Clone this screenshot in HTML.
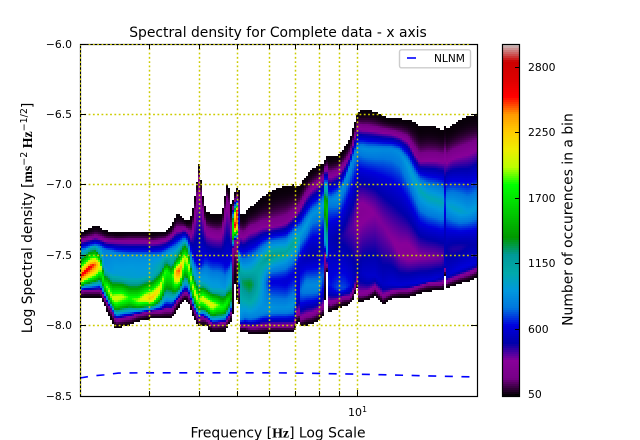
<!DOCTYPE html>
<html><head><meta charset="utf-8"><title>Spectral density</title>
<style>
html,body{margin:0;padding:0;background:#fff}
svg{display:block}
text{font-family:"DejaVu Sans","Liberation Sans",sans-serif;fill:#000}
.m{font-family:"Liberation Serif",serif;font-weight:bold}
</style></head>
<body>
<svg id="chart" xmlns="http://www.w3.org/2000/svg" width="640" height="440" viewBox="0 0 640 440">
<g id="cells" shape-rendering="crispEdges"></g>
<g id="nlnm"></g>
<g id="grid"></g>
<rect x="80.5" y="44.5" width="397" height="352" fill="none" stroke="#000" stroke-width="1.2"></rect>
<g id="gridEdge"></g>
<g id="ticks"></g>
<text x="278" y="37" text-anchor="middle" font-size="13.9">Spectral density for Complete data - x axis</text>
<text x="32" y="218" text-anchor="middle" font-size="13.8" transform="rotate(-90 32 218)">Log Spectral density [<tspan class="m">ms</tspan><tspan font-size="9.5" dy="-5">−2</tspan><tspan class="m" dy="5"> Hz</tspan><tspan font-size="9.5" dy="-5">−1/2</tspan><tspan dy="5">]</tspan></text>
<text x="278" y="437.5" text-anchor="middle" font-size="13.9">Frequency [<tspan class="m">Hz</tspan>] Log Scale</text>
<text x="348" y="416" font-size="11">10<tspan font-size="8" dy="-4">1</tspan></text>
<g>
<rect x="399.5" y="49.8" width="71" height="18" rx="2" fill="#fff" stroke="#ccc" stroke-width="1.4"></rect>
<line x1="407" y1="58" x2="416" y2="58" stroke="#0000ff" stroke-width="1.6"></line>
<text x="434" y="62" font-size="10.6">NLNM</text>
</g>
<g id="colorbar" shape-rendering="crispEdges"></g>
<rect x="502.5" y="44.5" width="17" height="352" fill="none" stroke="#000" stroke-width="1.2"></rect>
<g id="cbticks"></g>
<text x="572.5" y="219.5" text-anchor="middle" font-size="13.9" transform="rotate(-90 572.5 219.5)">Number of occurences in a bin</text>
</svg>
<script>
var freqHz=[2.00,2.05,2.12,2.19,2.25,2.30,2.35,2.41,2.46,2.55,2.67,2.80,2.93,3.04,3.18,3.29,3.41,3.49,3.57,3.66,3.74,3.83,3.92,3.99,4.06,4.15,4.30,4.45,4.56,4.64,4.72,4.80,4.86,4.92,4.97,5.03,5.09,5.18,5.36,5.55,5.75,6.02,6.31,6.61,6.92,7.08,7.21,7.42,7.68,7.95,8.19,8.28,8.36,8.48,8.58,8.93,9.25,9.58,9.80,9.97,10.09,10.27,10.63,11.07,11.60,12.21,12.80,13.41,13.96,14.37,15.05,15.76,16.41,16.61,16.80,17.30,18.12,18.98,20.00];
var topEdge=[-7.33,-7.33,-7.31,-7.29,-7.30,-7.32,-7.33,-7.33,-7.34,-7.34,-7.33,-7.33,-7.33,-7.34,-7.33,-7.33,-7.29,-7.21,-7.21,-7.24,-7.26,-7.21,-7.04,-6.85,-7.04,-7.19,-7.21,-7.21,-7.20,-7.07,-6.96,-7.14,-7.11,-7.05,-7.02,-7.04,-7.21,-7.21,-7.16,-7.13,-7.09,-7.05,-7.02,-7.01,-7.00,-7.02,-6.99,-6.94,-6.89,-6.86,-6.85,-6.82,-6.79,-6.80,-6.80,-6.79,-6.74,-6.67,-6.58,-6.50,-6.48,-6.47,-6.47,-6.48,-6.51,-6.53,-6.53,-6.54,-6.55,-6.59,-6.58,-6.59,-6.61,-6.58,-6.60,-6.58,-6.54,-6.51,-6.50];
var purpleUpper=[-7.40,-7.39,-7.38,-7.37,-7.38,-7.39,-7.40,-7.40,-7.40,-7.40,-7.40,-7.40,-7.40,-7.41,-7.40,-7.39,-7.36,-7.32,-7.32,-7.31,-7.33,-7.36,-7.14,-6.96,-7.14,-7.32,-7.34,-7.35,-7.34,-7.19,-7.07,-7.31,-7.16,-7.11,-7.09,-7.14,-7.36,-7.36,-7.32,-7.31,-7.29,-7.29,-7.28,-7.26,-7.21,-7.18,-7.14,-7.07,-7.02,-6.99,-6.95,-6.89,-6.88,-6.93,-6.93,-6.91,-6.86,-6.79,-6.68,-6.60,-6.59,-6.60,-6.60,-6.61,-6.62,-6.63,-6.65,-6.68,-6.77,-6.82,-6.81,-6.81,-6.82,-6.79,-6.82,-6.79,-6.77,-6.75,-6.72];
var ridgeUpper=[-7.46,-7.46,-7.44,-7.43,-7.44,-7.46,-7.47,-7.48,-7.49,-7.50,-7.51,-7.51,-7.51,-7.51,-7.51,-7.49,-7.46,-7.45,-7.42,-7.39,-7.41,-7.50,-7.55,-7.58,-7.56,-7.55,-7.59,-7.59,-7.58,-7.59,-7.58,-7.55,-7.21,-7.16,-7.14,-7.25,-7.55,-7.59,-7.60,-7.58,-7.55,-7.51,-7.49,-7.48,-7.41,-7.39,-7.34,-7.29,-7.21,-7.18,-7.14,-6.97,-6.95,-7.11,-7.11,-7.09,-7.00,-6.87,-6.79,-6.75,-6.74,-6.74,-6.75,-6.75,-6.75,-6.75,-6.77,-6.86,-6.97,-7.04,-7.09,-7.11,-7.13,-7.11,-7.14,-7.16,-7.19,-7.20,-7.16];
var ridgeUpperCount=[800,800,800,800,800,800,820,850,850,850,870,870,870,870,870,880,850,850,850,850,800,650,600,620,650,700,720,720,680,650,640,650,1000,1100,1000,600,850,950,1000,1050,1150,1250,1200,1150,1150,1100,950,950,900,900,950,700,700,850,850,900,880,880,860,850,850,880,880,880,860,860,880,950,1000,1050,1050,1050,1050,700,950,1000,1000,950,950];
var midLevel=[-7.50,-7.48,-7.45,-7.44,-7.49,-7.57,-7.60,-7.62,-7.63,-7.64,-7.65,-7.65,-7.64,-7.64,-7.60,-7.56,-7.55,-7.52,-7.51,-7.44,-7.46,-7.59,-7.66,-7.68,-7.68,-7.69,-7.73,-7.73,-7.72,-7.73,-7.70,-7.68,-7.26,-7.21,-7.18,-7.39,-7.68,-7.70,-7.71,-7.71,-7.70,-7.69,-7.69,-7.69,-7.64,-7.59,-7.55,-7.52,-7.50,-7.50,-7.43,-7.14,-7.14,-7.39,-7.39,-7.39,-7.36,-7.32,-7.29,-7.25,-7.21,-7.19,-7.19,-7.21,-7.29,-7.39,-7.48,-7.50,-7.51,-7.52,-7.52,-7.52,-7.52,-7.43,-7.46,-7.46,-7.45,-7.43,-7.43];
var midCount=[1050,1050,1100,1100,1100,880,900,920,950,950,960,950,950,1000,1100,1300,1100,1200,1400,1400,1300,1000,950,950,950,950,950,950,900,900,950,950,1800,2200,2600,200,1250,1300,1350,1200,950,620,620,600,620,560,560,520,500,520,520,1500,1750,520,520,480,450,400,380,330,300,300,320,340,350,340,320,300,320,340,350,360,380,500,480,450,450,480,500];
var ridgeLower=[-7.65,-7.62,-7.58,-7.56,-7.56,-7.70,-7.73,-7.80,-7.80,-7.79,-7.80,-7.82,-7.80,-7.80,-7.73,-7.60,-7.65,-7.61,-7.60,-7.51,-7.53,-7.70,-7.78,-7.82,-7.80,-7.82,-7.85,-7.85,-7.87,-7.85,-7.82,-7.80,-7.33,-7.28,-7.26,-7.57,-7.95,-7.93,-7.93,-7.92,-7.89,-7.87,-7.87,-7.87,-7.85,-7.75,-7.75,-7.71,-7.71,-7.71,-7.64,-7.36,-7.39,-7.71,-7.71,-7.73,-7.73,-7.71,-7.68,-7.60,-7.64,-7.62,-7.64,-7.64,-7.70,-7.70,-7.71,-7.70,-7.70,-7.69,-7.68,-7.66,-7.64,-7.57,-7.64,-7.62,-7.59,-7.57,-7.55];
var ridgeLowerCount=[2550,2600,2600,2450,2050,1700,1950,2000,2050,2000,1800,1950,2150,2300,2100,1800,1700,2400,2500,1950,2000,1950,2100,1900,2050,2050,2100,1900,1800,1800,1750,1500,1700,2700,2500,1400,850,820,850,850,880,900,880,880,900,550,780,850,850,850,750,1000,1050,650,650,720,720,650,550,500,520,560,580,580,560,600,600,600,620,620,600,600,560,550,560,600,620,620,600];
var purpleLower=[-7.76,-7.75,-7.75,-7.75,-7.75,-7.80,-7.85,-7.90,-7.96,-7.95,-7.94,-7.92,-7.91,-7.90,-7.90,-7.89,-7.89,-7.84,-7.80,-7.77,-7.77,-7.85,-7.92,-7.95,-7.94,-7.95,-7.99,-7.99,-7.98,-7.98,-7.95,-7.92,-7.43,-7.39,-7.38,-7.75,-8.01,-8.00,-8.01,-8.01,-8.00,-8.00,-8.00,-8.00,-8.00,-7.89,-7.95,-7.93,-7.92,-7.90,-7.87,-7.50,-7.52,-7.84,-7.84,-7.82,-7.80,-7.80,-7.75,-7.68,-7.78,-7.78,-7.77,-7.73,-7.79,-7.76,-7.75,-7.75,-7.73,-7.72,-7.70,-7.70,-7.70,-7.60,-7.69,-7.67,-7.65,-7.63,-7.60];
var bottomEdge=[-7.81,-7.80,-7.80,-7.80,-7.80,-7.85,-7.91,-7.97,-8.02,-8.01,-8.00,-7.97,-7.96,-7.95,-7.95,-7.95,-7.95,-7.90,-7.86,-7.82,-7.83,-7.91,-7.98,-8.01,-8.00,-8.00,-8.05,-8.05,-8.04,-8.04,-8.00,-7.97,-7.92,-7.68,-7.82,-7.85,-8.05,-8.04,-8.06,-8.06,-8.06,-8.05,-8.05,-8.05,-8.05,-7.96,-8.01,-8.00,-7.99,-7.97,-7.93,-7.82,-7.57,-7.91,-7.90,-7.88,-7.86,-7.85,-7.80,-7.73,-7.83,-7.83,-7.82,-7.79,-7.85,-7.81,-7.80,-7.80,-7.79,-7.77,-7.76,-7.75,-7.75,-7.65,-7.73,-7.72,-7.70,-7.69,-7.66];
var nlnmFreq=[2,2.1,2.2,2.3,2.5,3,4,5,6,7,8,10,12,15,20];
var nlnmValue=[-8.372,-8.362,-8.355,-8.35,-8.337,-8.335,-8.335,-8.335,-8.335,-8.337,-8.34,-8.345,-8.35,-8.357,-8.365];
var yTickValues=[-6.0,-6.5,-7.0,-7.5,-8.0,-8.5];
var xGridFreqs=[3,4,5,6,7,8,9,10];
var colorbarTicks=[50,600,1150,1700,2250,2800];
var edgeCount=50;
var purpleCount=280;
var countMin=40;
var countMax=2997;
var cmapStops=[[0,0,0,0],[.05,.4667,0,.5333],[.1,.5333,0,.6],[.15,0,0,.6667],[.2,0,0,.8667],[.25,0,.4667,.8667],[.3,0,.6,.8667],[.35,0,.6667,.6667],[.4,0,.6,.6],[.45,0,.6,0],[.5,0,.7333,0],[.55,0,.8667,0],[.6,0,1,0],[.65,.7333,1,0],[.7,.9333,.9333,0],[.75,1,.8,0],[.8,1,.6,0],[.85,1,0,0],[.9,.8667,0,0],[.95,.8,0,0],[1,.8,.8,.8]];

var NS='http://www.w3.org/2000/svg';
function xScale(f){return 80+397*Math.log10(f/2);}
function yScale(p){return 44+(-6-p)*140.8;}
function cbScale(v){return 396-(v-countMin)/(countMax-countMin)*352;}
function mk(tag,parent,attrs){var e=document.createElementNS(NS,tag);for(var k in attrs)e.setAttribute(k,attrs[k]);parent.appendChild(e);return e;}
function color(c){
  var t=Math.max(0,Math.min(1,(c-countMin)/(countMax-countMin)));
  for(var i=1;i<cmapStops.length;i++){
    if(t<=cmapStops[i][0]){
      var a=cmapStops[i-1],b=cmapStops[i],u=(t-a[0])/(b[0]-a[0]);
      return 'rgb('+Math.round(255*(a[1]+u*(b[1]-a[1])))+','+Math.round(255*(a[2]+u*(b[2]-a[2])))+','+Math.round(255*(a[3]+u*(b[3]-a[3])))+')';
    }
  }
  return 'rgb(204,204,204)';
}
function lerp(arr,i,u){return arr[i]+u*(arr[i+1]-arr[i]);}
function shaped(s,w,c0,c1){
  if(s===0)return c0+(c1-c0)*Math.pow(w,2.5);
  if(s===2)return c1+(c0-c1)*Math.pow(1-w,1.4);
  if(s===3)return c0+(c1-c0)*Math.pow(w,1.2);
  if(s===4)return c0+(c1-c0)*Math.pow(w,1.6);
  if(s===5)return c1+(c0-c1)*Math.pow(1-w,2);
  return c0+(c1-c0)*w;
}

var cells=document.getElementById('cells');
for(var px=80;px<477;px+=2){
  var lf=Math.log10(2)+(px+1-80)/397;
  var f=Math.pow(10,lf),i=0;
  while(i<freqHz.length-2&&freqHz[i+1]<f)i++;
  var u=Math.max(0,Math.min(1,(lf-Math.log10(freqHz[i]))/(Math.log10(freqHz[i+1])-Math.log10(freqHz[i]))));
  var yNodes=[yScale(lerp(topEdge,i,u)),yScale(lerp(purpleUpper,i,u)),yScale(lerp(ridgeUpper,i,u)),yScale(lerp(midLevel,i,u)),yScale(lerp(ridgeLower,i,u)),yScale(lerp(purpleLower,i,u)),yScale(lerp(bottomEdge,i,u))];
  var cNodes=[edgeCount,purpleCount,lerp(ridgeUpperCount,i,u),lerp(midCount,i,u),lerp(ridgeLowerCount,i,u),purpleCount,edgeCount];
  for(var py=44;py<396;py+=2){
    var yc=py+1;
    if(yc<yNodes[0]||yc>yNodes[6])continue;
    var s=0;
    while(s<5&&yc>yNodes[s+1])s++;
    var span=yNodes[s+1]-yNodes[s];
    var w=span>0?(yc-yNodes[s])/span:0;
    var count=shaped(s,w,cNodes[s],cNodes[s+1]);
    var cell=mk('rect',cells,{x:px,y:py,width:2,height:2,fill:color(count)});
    
    
  }
}

var nl=document.getElementById('nlnm');
var pts=nlnmFreq.map(function(f,k){return xScale(f).toFixed(2)+','+yScale(nlnmValue[k]).toFixed(2);}).join(' ');
var nlLine=mk('polyline',nl,{points:pts,fill:'none',stroke:'#0000ff','stroke-width':1.6,'stroke-dasharray':'8 8.6'});



var grid=document.getElementById('grid');
var GC='#cccc00';
var GD='1.8 2.5';
var GW=1.5;
xGridFreqs.forEach(function(f){
  var x=Math.floor(xScale(f))+.5;
  var g=mk('line',grid,{x1:x,x2:x,y1:44,y2:396,stroke:GC,'stroke-width':GW,'stroke-dasharray':GD});
  
  
});
yTickValues.slice(1,5).forEach(function(v){
  var y=Math.floor(yScale(v))+.5;
  var g=mk('line',grid,{x1:80,x2:477,y1:y,y2:y,stroke:GC,'stroke-width':GW,'stroke-dasharray':GD});
  
  
});
var ge=document.getElementById('gridEdge');
var g1=mk('line',ge,{x1:80.5,x2:80.5,y1:44,y2:396,stroke:GC,'stroke-width':1,'stroke-dasharray':GD});


var g2=mk('line',ge,{x1:80,x2:477,y1:44.5,y2:44.5,stroke:GC,'stroke-width':1,'stroke-dasharray':GD});



var tk=document.getElementById('ticks');
xGridFreqs.forEach(function(f){
  var x=Math.floor(xScale(f))+.5,len=f===10?6:5;
  var a=mk('line',tk,{x1:x,x2:x,y1:396,y2:396-len,stroke:'#000','stroke-width':1});
  
  
  var b=mk('line',tk,{x1:x,x2:x,y1:44,y2:44+len,stroke:'#000','stroke-width':1});
  
  
});
yTickValues.forEach(function(v){
  var y=Math.floor(yScale(v))+.5;
  var a=mk('line',tk,{x1:80,x2:86,y1:y,y2:y,stroke:'#000','stroke-width':1});
  
  
  var b=mk('line',tk,{x1:477,x2:471,y1:y,y2:y,stroke:'#000','stroke-width':1});
  
  
  var t=mk('text',tk,{x:72,y:y+3.5,'text-anchor':'end','font-size':10.8});
  t.textContent='\u2212'+Math.abs(v).toFixed(1);
  
  
});

var cb=document.getElementById('colorbar');
for(var cy=44;cy<396;cy+=2){
  var val=countMax-(cy+1-44)/352*(countMax-countMin);
  var slice=mk('rect',cb,{x:503,y:cy,width:16,height:2,fill:color(val)});
  
  
}
var ct=document.getElementById('cbticks');
colorbarTicks.forEach(function(v){
  var y=Math.floor(cbScale(v))+.5;
  var l=mk('line',ct,{x1:519,x2:515,y1:y,y2:y,stroke:'#000','stroke-width':1});
  
  
  var t=mk('text',ct,{x:528,y:y+3.5,'font-size':10.8});
  t.textContent=String(v);
  
  
});
</script>
</body></html>
